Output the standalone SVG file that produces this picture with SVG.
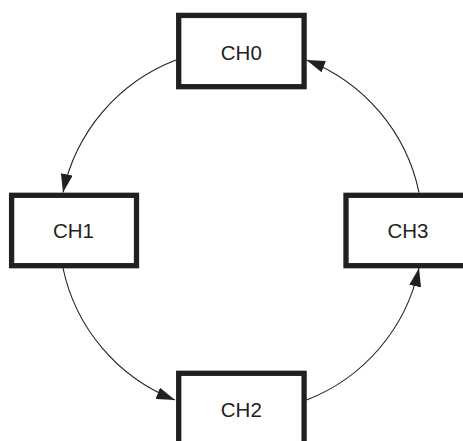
<svg xmlns="http://www.w3.org/2000/svg" width="463" height="441" viewBox="0 0 463 441">
<defs>
<style>
.box{fill:#fff;stroke:#231f20;stroke-width:5.3}
.lbl{font-family:"Liberation Sans",Arial,sans-serif;font-size:20.5px;fill:#231f20;text-anchor:middle}
.arc{fill:none;stroke:#231f20;stroke-width:1.1;marker-end:url(#ah)}
</style>
<marker id="ah" markerUnits="userSpaceOnUse" markerWidth="19" markerHeight="12" refX="18.5" refY="6" orient="auto">
<path d="M0,0 L18.5,6 L0,12 z" fill="#231f20"/>
</marker>
</defs>
<rect width="463" height="441" fill="#fff"/>
<g id="connectors">
<path class="arc" d="M176,60 A182,182 0 0 0 63,192.5"/>
<path class="arc" d="M63,268 A182,182 0 0 0 175,400"/>
<path class="arc" d="M306.5,400 A182,182 0 0 0 419,268"/>
<path class="arc" d="M419,192.5 A182,182 0 0 0 306.5,60"/>
</g>
<g id="ch0"><rect class="box" x="178.7" y="15.4" width="125.4" height="71.3"/><text class="lbl" x="241.3" y="59.5">CH0</text></g>
<g id="ch1"><rect class="box" x="11.6" y="195.3" width="124.9" height="70.4"/><text class="lbl" x="73.5" y="237.5">CH1</text></g>
<g id="ch2"><rect class="box" x="178.7" y="373.3" width="125.4" height="71.3"/><text class="lbl" x="241.3" y="417.3">CH2</text></g>
<g id="ch3"><rect class="box" x="346" y="195.3" width="125" height="70.4"/><text class="lbl" x="408" y="237.5">CH3</text></g>
</svg>
